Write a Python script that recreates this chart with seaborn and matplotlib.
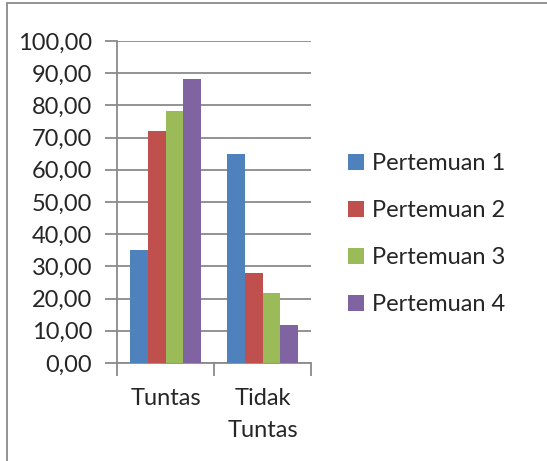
import matplotlib
matplotlib.use("Agg")
import matplotlib.pyplot as plt
from matplotlib.patches import Rectangle
from matplotlib.ticker import FuncFormatter, FixedLocator
import seaborn as sns
import pandas as pd

categories = ['Tuntas', 'Tidak\nTuntas']
series = ['Pertemuan 1', 'Pertemuan 2', 'Pertemuan 3', 'Pertemuan 4']
tuntas = [35.0, 72.2, 78.4, 88.1]
tidak_tuntas = [65.0, 27.8, 21.6, 11.9]
colors = ['#4F81BD', '#C0504D', '#9BBB59', '#8064A2']

rows = []
for s, a, b in zip(series, tuntas, tidak_tuntas):
    rows.append({'kategori': categories[0], 'pertemuan': s, 'nilai': a})
    rows.append({'kategori': categories[1], 'pertemuan': s, 'nilai': b})
df = pd.DataFrame(rows)

sns.set_style('white')
plt.rcParams['font.family'] = ['Lato', 'DejaVu Sans']

W, H = 547, 461
fs = 17
fig = plt.figure(figsize=(W / 100, H / 100), dpi=100)
ax = fig.add_axes([117 / W, (H - 363) / H, (311 - 117) / W, (363 - 41) / H])

sns.barplot(data=df, x='kategori', y='nilai', hue='pertemuan', order=categories,
            hue_order=series, palette=colors, width=0.74, gap=0, saturation=1,
            edgecolor='none', ax=ax, zorder=3)

grey = '#8a8a8a'
ax.set_ylim(0, 100)
ax.set_xlim(-0.5, 1.5)
ax.set_yticks(range(0, 101, 10))
ax.yaxis.set_major_formatter(FuncFormatter(lambda v, p: f'{v:.2f}'.replace('.', ',')))
ax.yaxis.grid(True, color=grey, linewidth=1.3, zorder=0)
ax.set_axisbelow(True)
ax.tick_params(axis='y', direction='out', length=9, width=1.3, color=grey,
               labelsize=fs, pad=9, left=True)
ax.tick_params(axis='x', which='major', length=0, labelsize=fs, pad=18)
ax.xaxis.set_minor_locator(FixedLocator([-0.5, 0.5, 1.5]))
ax.tick_params(axis='x', which='minor', direction='out', length=9, width=1.3,
               color=grey, bottom=True)
for lab in ax.get_xticklabels():
    lab.set_linespacing(1.65)
    lab.set_verticalalignment('top')
for side in ['top', 'right']:
    ax.spines[side].set_visible(False)
for side in ['left', 'bottom']:
    ax.spines[side].set_color(grey)
    ax.spines[side].set_linewidth(1.3)
ax.set_xlabel('')
ax.set_ylabel('')

handles, labels = ax.get_legend_handles_labels()
ax.legend_.remove()
fig.legend(handles, labels, loc='center left', bbox_to_anchor=(339 / W, 1 - 234 / H),
           frameon=False, fontsize=fs, handlelength=0.65, handleheight=0.65,
           handletextpad=0.35, labelspacing=1.1, borderaxespad=0)

fig.patches.append(Rectangle((7 / W, -0.1), 2, 1.1 - 3 / H, transform=fig.transFigure,
                             fill=False, edgecolor=grey, linewidth=1.3))

fig.savefig('out.png', dpi=100)
